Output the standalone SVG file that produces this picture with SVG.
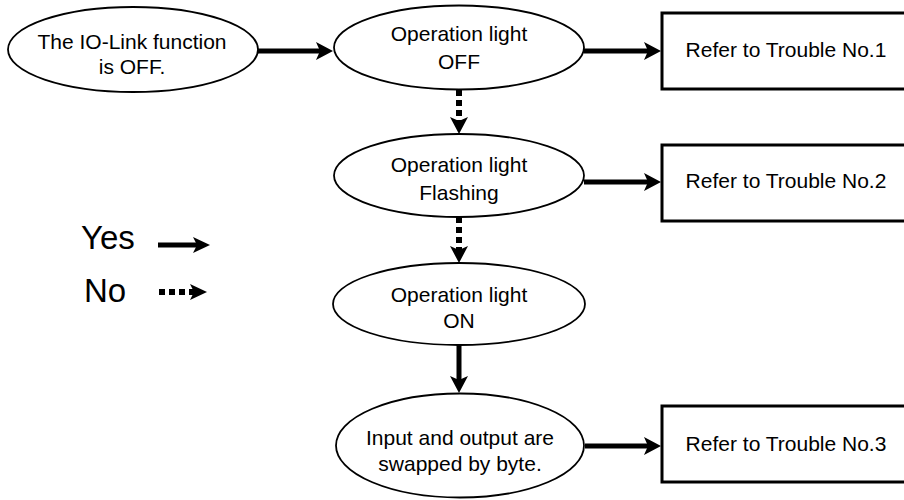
<svg xmlns="http://www.w3.org/2000/svg" width="904" height="500" viewBox="0 0 904 500">
<style>
.node ellipse{fill:#fff;stroke:#000;stroke-width:1.8}
.node rect{fill:#fff;stroke:#000;stroke-width:3}
text{font-family:"Liberation Sans",Arial,sans-serif;font-size:21px;fill:#000;text-anchor:middle}
.legend{font-size:33px;text-anchor:start}
.yes{fill:none;stroke:#000;stroke-width:5;marker-end:url(#ah)}
.no{fill:none;stroke:#000;stroke-width:6;stroke-dasharray:6 4;marker-end:url(#ah)}
</style>
<defs>
<marker id="ah" markerUnits="userSpaceOnUse" viewBox="0 0 17 18" refX="4" refY="9" markerWidth="17" markerHeight="18" orient="auto">
<path d="M0,0 L17,9 L0,18 L4,9 z" fill="#000"/>
</marker>
<marker id="ahs" markerUnits="userSpaceOnUse" viewBox="0 0 17 16" refX="4" refY="8" markerWidth="17" markerHeight="16" orient="auto">
<path d="M0,0 L17,8 L0,16 L4,8 z" fill="#000"/>
</marker>
</defs>
<g id="connectors">
<line class="yes" x1="258" y1="51" x2="320" y2="51"/>
<line class="yes" x1="584" y1="51" x2="648" y2="51"/>
<line class="yes" x1="584" y1="182" x2="648" y2="182"/>
<line class="yes" x1="585" y1="446" x2="648" y2="446"/>
<line class="no" x1="459" y1="90" x2="459" y2="121"/>
<line class="no" x1="459" y1="217" x2="459" y2="250"/>
<line class="yes" x1="459" y1="345" x2="459" y2="380"/>
</g>
<g id="n1" class="node"><ellipse cx="133" cy="49.5" rx="125" ry="42.5"/><text x="132" y="49">The IO-Link function</text><text x="132" y="74">is OFF.</text></g>
<g id="n2" class="node"><ellipse cx="459" cy="47.5" rx="125" ry="42"/><text x="459" y="41">Operation light</text><text x="459" y="69">OFF</text></g>
<g id="n3" class="node"><ellipse cx="459" cy="175.5" rx="125" ry="41.5"/><text x="459" y="172">Operation light</text><text x="459" y="200">Flashing</text></g>
<g id="n4" class="node"><ellipse cx="459" cy="304" rx="126" ry="41"/><text x="459" y="302">Operation light</text><text x="459" y="328">ON</text></g>
<g id="n5" class="node"><ellipse cx="460" cy="445.5" rx="124" ry="52"/><text x="460" y="445">Input and output are</text><text x="460" y="471">swapped by byte.</text></g>
<g id="b1" class="node"><rect x="662" y="13" width="250" height="76"/><text x="786" y="57">Refer to Trouble No.1</text></g>
<g id="b2" class="node"><rect x="662" y="145" width="250" height="76"/><text x="786" y="188">Refer to Trouble No.2</text></g>
<g id="b3" class="node"><rect x="662" y="406" width="250" height="76"/><text x="786" y="451">Refer to Trouble No.3</text></g>
<g id="legend">
<text class="legend" x="81" y="249">Yes</text>
<line x1="158" y1="245" x2="197" y2="245" stroke="#000" stroke-width="5" marker-end="url(#ahs)"/>
<text class="legend" x="84" y="302">No</text>
<line x1="159" y1="292" x2="194" y2="292" stroke="#000" stroke-width="6" stroke-dasharray="6 4" marker-end="url(#ahs)"/>
</g>
</svg>
